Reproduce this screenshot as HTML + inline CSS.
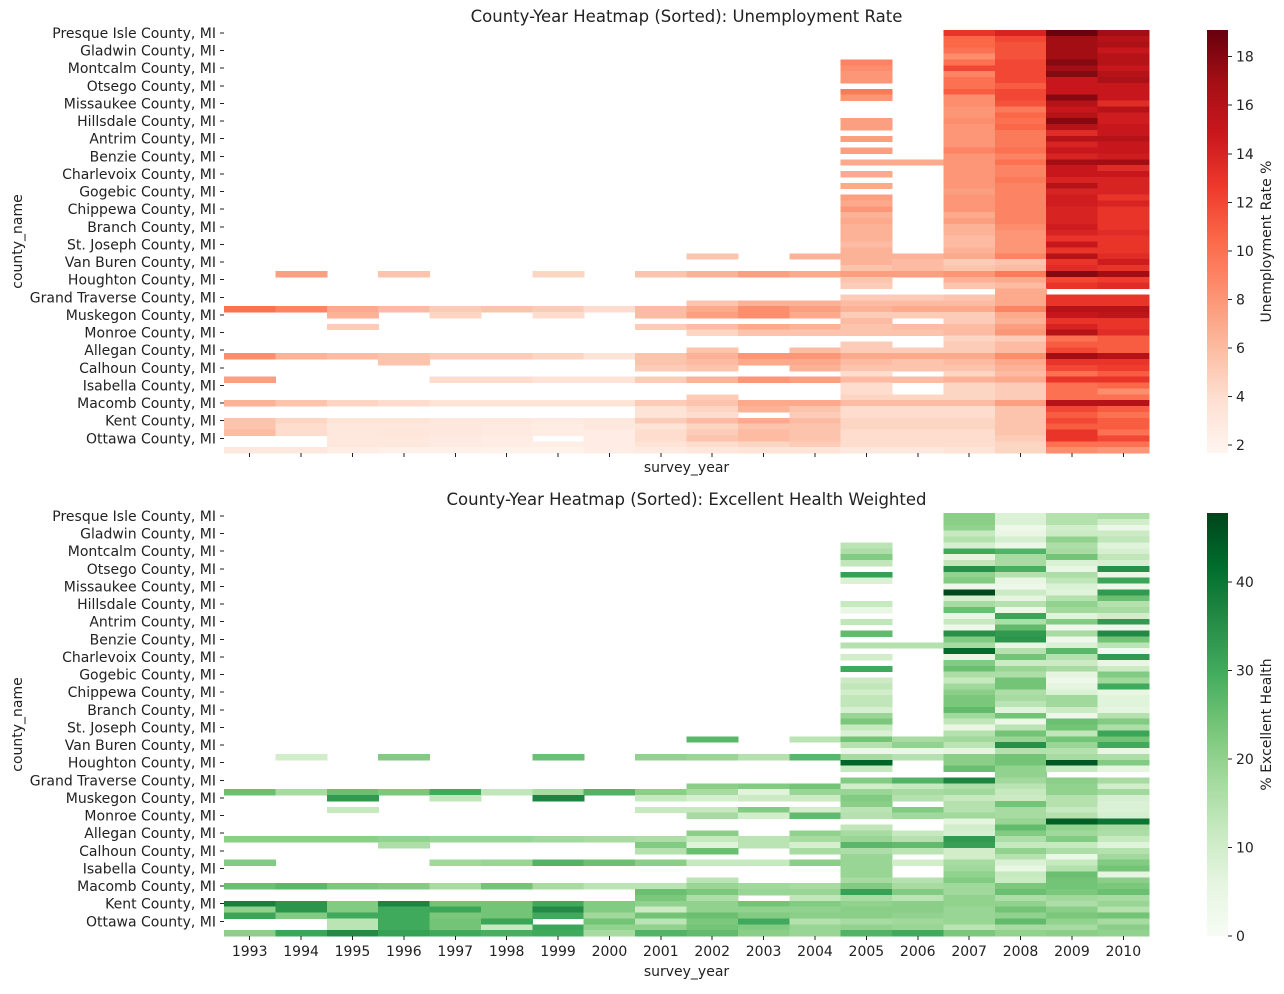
<!DOCTYPE html>
<html><head><meta charset="utf-8">
<style>
html,body{margin:0;padding:0;background:#fff;}
svg text{font-family:"DejaVu Sans","Liberation Sans",sans-serif;fill:#222;}
</style></head>
<body>
<svg id="fig" width="1284" height="989" viewBox="0 0 1284 989" xmlns="http://www.w3.org/2000/svg" shape-rendering="crispEdges"></svg>
<script>
const years = ["1993","1994","1995","1996","1997","1998","1999","2000","2001","2002","2003","2004","2005","2006","2007","2008","2009","2010"];
const countyLabels = ["Presque Isle County, MI","Gladwin County, MI","Montcalm County, MI","Otsego County, MI","Missaukee County, MI","Hillsdale County, MI","Antrim County, MI","Benzie County, MI","Charlevoix County, MI","Gogebic County, MI","Chippewa County, MI","Branch County, MI","St. Joseph County, MI","Van Buren County, MI","Houghton County, MI","Grand Traverse County, MI","Muskegon County, MI","Monroe County, MI","Allegan County, MI","Calhoun County, MI","Isabella County, MI","Macomb County, MI","Kent County, MI","Ottawa County, MI"];
const unempTicks = [2,4,6,8,10,12,14,16,18];
const healthTicks = [0,10,20,30,40];
const E = "- - - - - - - - - - - - ";
const unempRows = [
E+"- - 13 14 19 17",E+"- - 10.5 12 17 16",E+"- - 10.5 11.5 17 16.5",E+"- - 10 11.5 17 15",E+"- - 8.5 11.5 17 16",
E+"9 - 10 12 18 16",E+"8.5 - 12 12 17 15",E+"8 - 9 12 18 16",E+"8 - 10 12 15 16.5",E+"- - 10 11 15 15",
E+"9.5 - 11 12 15 15",E+"8 - 8.5 12 18 15",E+"- - 8.5 11.5 16 13.5",E+"- - 8 9.5 15 16",E+"- - 8 10.5 16 14.5",
E+"7.5 - 8.5 10 18 14.5",E+"7.5 - 8 10.5 16 15",E+"- - 8 9.5 13.5 15",E+"7.5 - 8 9.5 16 16",E+"- - 8 9.5 14 15",
E+"7.5 - 9 10 15 15",E+"- - 8 9 14 14.5",E+"7 7 8 10 17 17",E+"- - 8 9 15 13.5",E+"7 - 8 9 15 15",
E+"- - 8 9.5 14 14",E+"7 - 8 9 16 14",E+"- - 7.5 9 14 14",E+"7.5 - 8 9 14.5 13",E+"7 - 8 9 14.5 14",
E+"8 - 8 9 14 13",E+"6.5 - 7 9 14 13",E+"7 - 7.5 9 14 13",E+"6.5 - 6.5 8.5 14.5 13",E+"6.5 - 6.5 8 14 13.5",
E+"6.5 - 6 8 13 13",E+"6 - 6 8 15 13",E+"6.5 - 6.5 8 13 13",
"- - - - - - - - - 5.5 - 6.5 6.5 6.5 7 9 16 13.5",
E+"6.5 6 5 5.5 13 14.5",E+"5.5 6 5.5 6 13.5 13",
"- 7.5 - 5.5 - - 4.5 - 5.5 6.5 7.5 7 7.5 7.5 8 9.5 18 17",
E+"5.5 - 6.5 7 12 12.5",E+"5 - 5.5 6 13 13.5",E+"- - - 7 - -",E+"5 5 5.5 7 13 13",
"- - - - - - - - - 5.5 6.5 6.5 6 6 6 7 13 13",
"10 9 7 6 5 5.5 5 4 6 7 8.5 7.5 6.5 7 7 9 16 16",
"- - 6.5 - 4.5 - 4 - 6 7.5 8.5 7 5 5 5 7 15 15.5",
E+"6 - 5 6.5 13 13",
"- - 5 - - - - - 5 6 7 6.5 5.5 6 6 7.5 14 13",
"- - - - - - - - - 4.5 5.5 5.5 5.5 5.5 6 8 16 13.5",
E+"- - 4.5 5 10 11",E+"5 - 5 6 11 11",
"- - - - - - - - - 5.5 - 6 5 5 5 6 12 11",
"8.5 6.5 6 5.5 5 5 4.5 3.5 5.5 6.5 8 8 7 7 7 8.5 17 16",
"- - - 5.5 - - - - 5.5 6 7 7 6 5.5 6 7 13 13",
"- - - - - - - - 5 5.5 - 6.5 5.5 5.5 5.5 6.5 12 12.5",
E+"4 - 4.5 6 10 11",
"7.5 - - - 4 4 3.5 3.5 5 6.5 8 7.5 6 6 6.5 7 13 13",
E+"4 - 4.5 5 10 10.5",E+"4 - 4.5 5 10 8.5",
"- - - - - - - - - 5 - - 4.5 4.5 4.5 5 10 10",
"6.5 5.5 4.5 4 3.5 3.5 3.5 3.5 5 5.5 7 7 6 6 6 7.5 16 16",
"- - - - - - - - 3.5 4.5 6.5 5.5 4 4 4 5.5 12 11",
"- - - - - - - - 3.5 4 - 5 4 4 4 5.5 11 10",
"5.5 4.5 3.5 3.5 3 3 2.8 3 5 6 7 6 4.5 4.5 4.5 5.5 12 11",
"5.5 4 3 3 3 2.8 2.6 3 3.5 4.5 5.5 5.5 4.5 4.5 4.5 5.5 11 11",
"6 4 3 3.2 3 2.8 2.6 2.5 4 5 6 5.5 4 4 4 5.5 13 10",
"- - 3 3 2.8 2.5 - 2.5 4 5.5 6 5.5 4 4 4 5 13 12",
"- - 3 3 2.8 2.5 2.4 2.5 3.5 4 4.5 5 4 4 4 4.5 10 10",
"3 3 2.5 2.2 2.2 2 2 2.5 2.8 3.2 3.5 3.5 3 3 3.5 4.5 8.5 8"
];
const healthRows = [
E+"- - 21 8 15 16",E+"- - 21 8 15 10",E+"- - 20 3 10 4",E+"- - 12 5 11 11",E+"- - 15 9 20 13",
E+"14 - 9 4 16 7",E+"16 - 30 28 17 9",E+"22 - 6 17 24 13",E+"13 - 13 17 8 9",E+"- - 35 29 5 35",
E+"32 - 20 15 16 4",E+"8 - 22 5 13 31",E+"- - 3 3 8 3",E+"- - 47 11 7 33",E+"- - 9 6 15 25",
E+"12 - 17 15 20 15",E+"5 - 25 4 18 17",E+"- - 5 31 7 10",E+"13 - 12 16 22 33",E+"- - 3 26 3 3",
E+"26 - 35 33 17 36",E+"- - 22 34 3 24",E+"15 15 17 5 8 14",E+"- - 42 15 27 2",E+"10 - 5 24 15 33",
E+"- - 22 11 11 5",E+"30 - 25 19 17 11",E+"- - 16 16 6 22",E+"11 - 12 24 3 18",E+"13 - 18 24 6 30",
E+"10 - 21 16 8 5",E+"13 - 23 17 18 7",E+"13 - 23 14 18 7",E+"9 - 26 7 11 6",E+"19 - 18 24 3 15",
E+"23 - 13 4 25 22",E+"12 - 5 14 24 16",E+"8 - 15 24 13 31",
"- - - - - - - - - 27 - 14 24 17 18 19 24 24",
E+"15 20 14 35 19 30",E+"4 4 6 15 15 5",
"- 10 - 22 - - 25 - 20 19 15 27 17 15 21 24 17 16",
E+"43 - 21 24 45 22",E+"12 - 25 20 12 6",E+"- - - 20 - -",E+"22 28 37 18 21 17",
"- - - - - - - - - 21 22 24 10 12 16 14 20 10",
"25 17 25 23 30 13 17 28 21 17 7 19 19 17 18 12 20 18",
"- - 33 - 13 - 37 - 12 9 11 11 22 15 12 11 15 9",
E+"21 - 15 24 15 8",
"- - 12 - - - - - 12 12 22 10 14 22 15 17 12 8",
"- - - - - - - - - 17 10 26 15 18 18 17 15 9",
E+"- - 6 19 44 40",E+"13 - 10 26 20 17",
"- - - - - - - - - 21 - 20 17 12 9 22 18 16",
"21 21 21 20 19 19 18 17 16 12 14 17 19 15 33 16 22 12",
"- - - 16 - - - - 22 7 14 9 27 26 32 12 12 7",
"- - - - - - - - 15 25 - 17 16 14 10 20 16 15",
E+"19 - 10 15 4 18",
"22 - - - 18 19 28 25 21 12 12 21 19 10 17 8 12 22",
E+"19 - 18 5 15 24",E+"19 - 20 12 25 6",
"- - - - - - - - - 14 - - 17 15 22 11 24 21",
"25 27 23 22 17 24 17 14 14 19 18 17 22 17 18 23 24 23",
"- - - - - - - - 25 23 19 19 32 22 18 25 23 25",
"- - - - - - - - 23 16 - 13 17 14 20 16 18 17",
"38 34 22 37 24 24 30 22 20 20 24 22 20 21 20 20 16 19",
"20 34 22 30 31 24 36 22 11 20 20 20 21 21 19 24 21 15",
"31 22 30 30 23 24 30 18 24 25 22 21 21 20 19 20 23 24",
"- - 14 30 24 31 - 24 14 23 30 15 17 18 19 26 20 17",
"- - 14 30 24 12 31 20 20 24 22 19 20 19 14 17 17 21",
"21 31 36 32 30 29 30 17 28 26 21 19 28 30 23 20 21 20"
];

const NS="http://www.w3.org/2000/svg";
const svg=document.getElementById('fig');
const REDS=["#fff5f0","#fee0d2","#fcbba1","#fc9272","#fb6a4a","#ef3b2c","#cb181d","#a50f15","#67000d"];
const GREENS=["#f7fcf5","#e5f5e0","#c7e9c0","#a1d99b","#74c476","#41ab5d","#238b45","#006d2c","#00441b"];
function hx(c){return [parseInt(c.slice(1,3),16),parseInt(c.slice(3,5),16),parseInt(c.slice(5,7),16)];}
function cmap(stops,t){t=Math.max(0,Math.min(1,t));const p=t*(stops.length-1);const i=Math.min(Math.floor(p),stops.length-2);const f=p-i;const a=hx(stops[i]),b=hx(stops[i+1]);return "rgb("+a.map((v,k)=>Math.round(v+(b[k]-v)*f)).join(",")+")";}
function el(tag,attrs,parent){const e=document.createElementNS(NS,tag);for(const k in attrs)e.setAttribute(k,attrs[k]);(parent||svg).appendChild(e);return e;}
function txt(s,attrs,parent){const e=el('text',attrs,parent);e.textContent=s;return e;}
function parseRows(rows){return rows.map(r=>r.trim().split(/\s+/).map(v=>v==='-'?null:parseFloat(v)));}

const X0=224,X1=1149,CB0=1207,CB1=1228;
const FS='14';
function drawHeat(cfg){
  const data=parseRows(cfg.rows);
  const nR=data.length,nC=years.length;
  const cw=(X1-X0)/nC,rh=(cfg.y1-cfg.y0)/nR;
  const xScale=c=>X0+c*cw, yScale=r=>cfg.y0+r*rh;
  const norm=v=>(v-cfg.vmin)/(cfg.vmax-cfg.vmin);
  const g=el('g',{});
  
  
  data.forEach((row,r)=>row.forEach((v,c)=>{
    if(v===null)return;
    const rc=el('rect',{x:xScale(c).toFixed(2),y:yScale(r).toFixed(2),width:(cw+0.6).toFixed(2),height:(rh+0.6).toFixed(2),fill:cmap(cfg.stops,norm(v))},g);
    
    
  }));
  const t=txt(cfg.title,{x:(X0+X1)/2,y:cfg.y0-8,'text-anchor':'middle','font-size':'16.5'});
  
  
  countyLabels.forEach((lab,i)=>{
    const y=yScale(i*3+0.5);
    el('line',{x1:X0-4,x2:X0,y1:y,y2:y,stroke:'#222','stroke-width':1});
    const tl=txt(lab,{x:X0-8,y:y+5,'text-anchor':'end','font-size':FS});
    
    
  });
  years.forEach((yr,c)=>{
    const x=xScale(c+0.5);
    el('line',{x1:x,x2:x,y1:cfg.y1,y2:cfg.y1+4,stroke:'#222','stroke-width':1});
    if(cfg.xlabels){
      const xl=txt(yr,{x:x,y:cfg.y1+20,'text-anchor':'middle','font-size':FS});
      
      
    }
  });
  const xt=txt('survey_year',{x:(X0+X1)/2,y:cfg.xlabels?cfg.y1+40:cfg.y1+19,'text-anchor':'middle','font-size':FS});
  
  
  const ym=(cfg.y0+cfg.y1)/2;
  const yt=txt('county_name',{x:0,y:0,'text-anchor':'middle','font-size':FS,transform:'translate(22,'+ym+') rotate(-90)'});
  
  
  const gid='grad-'+cfg.name;
  const lg=el('linearGradient',{id:gid,x1:0,y1:1,x2:0,y2:0});
  cfg.stops.forEach((s,i)=>el('stop',{offset:(i/(cfg.stops.length-1)),'stop-color':s},lg));
  svg.appendChild(lg);
  const cb=el('rect',{x:CB0,y:cfg.y0,width:CB1-CB0,height:cfg.y1-cfg.y0,fill:'url(#'+gid+')'});
  
  
  const cbY=v=>cfg.y1-norm(v)*(cfg.y1-cfg.y0);
  cfg.ticks.forEach(v=>{
    const y=cbY(v);
    el('line',{x1:CB1,x2:CB1+4,y1:y,y2:y,stroke:'#222','stroke-width':1});
    const ct=txt(String(v),{x:CB1+8,y:y+5,'font-size':FS});
    
    
  });
  const cl=txt(cfg.cbLabel,{x:0,y:0,'text-anchor':'middle','font-size':FS,transform:'translate(1271,'+ym+') rotate(-90)'});
  
  
}
drawHeat({name:'unemployment',rows:unempRows,y0:30,y1:453,vmin:1.67,vmax:19.1,stops:REDS,ticks:unempTicks,title:'County-Year Heatmap (Sorted): Unemployment Rate',cbLabel:'Unemployment Rate %',xlabels:false});
drawHeat({name:'health',rows:healthRows,y0:513,y1:936,vmin:0,vmax:47.8,stops:GREENS,ticks:healthTicks,title:'County-Year Heatmap (Sorted): Excellent Health Weighted',cbLabel:'% Excellent Health',xlabels:true});
</script>
</body></html>
